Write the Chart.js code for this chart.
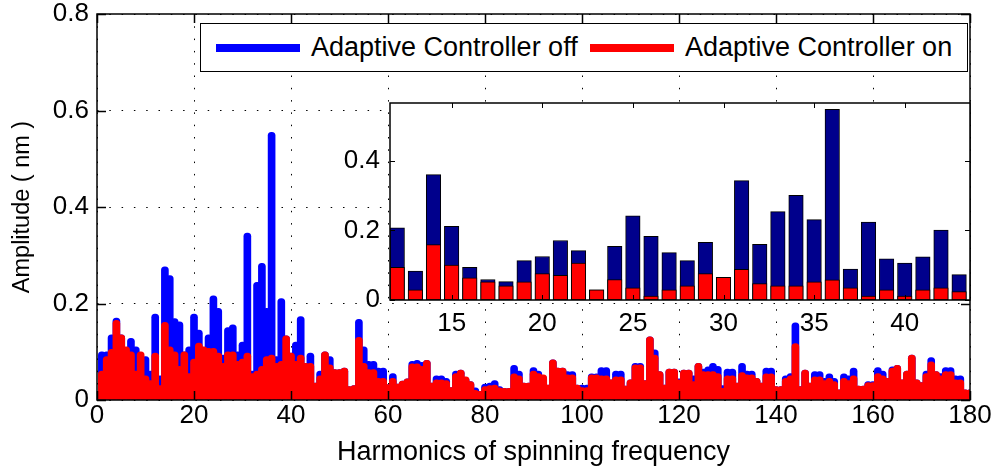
<!DOCTYPE html>
<html><head><meta charset="utf-8">
<script src="https://cdn.jsdelivr.net/npm/chart.js@4.4.1/dist/chart.umd.min.js"></script>
<style>
html,body{margin:0;padding:0;background:#fff;}
#wrap{position:relative;width:996px;height:472px;overflow:hidden;font-family:"Liberation Sans",Arial,sans-serif;}
#main{position:absolute;left:0;top:0;}
#inset{position:absolute;left:320px;top:95px;}
#legend{position:absolute;left:200px;top:23px;width:768px;height:49px;border:1.5px solid #000;background:#fff;box-sizing:border-box;}
.item{position:absolute;top:0;height:100%;display:flex;align-items:center;font-size:27px;color:#000;white-space:nowrap;}
.swatch{display:inline-block;width:84px;height:8px;margin-right:11px;}
</style></head>
<body><div id="wrap"><canvas id="main" width="996" height="472"></canvas><canvas id="inset" width="670" height="260"></canvas><div id="legend"></div></div>
<script>
// ---------- data ----------
const harmonics = Array.from({length: 180}, (_, i) => i + 1);
const ampOff = [
 .10,.10,.135,.17,.135,.095,.128,.11,.085,.09,
 .06,.178,.05,.276,.258,.169,.162,.10,.11,.178,
 .145,.09,.135,.216,.19,.093,.15,.156,.10,.12,
 .346,.06,.244,.283,.19,.555,.09,.21,.133,.097,
 .12,.173,.076,.097,.035,.06,.10,.09,.063,.063,
 .066,.028,.03,.167,.11,.08,.08,.066,.066,.032,
 .055,.033,.039,.044,.08,.082,.078,.082,.035,.05,
 .05,.045,.026,.06,.062,.047,.038,.025,.018,.033,
 .035,.04,.028,.024,.024,.072,.06,.035,.035,.067,
 .06,.05,.031,.083,.066,.066,.059,.059,.031,.031,
 .031,.054,.054,.067,.067,.042,.06,.06,.029,.042,
 .076,.076,.04,.131,.104,.059,.031,.064,.064,.044,
 .062,.062,.05,.076,.064,.069,.076,.07,.03,.064,
 .064,.035,.076,.06,.06,.045,.035,.066,.066,.028,
 .028,.05,.055,.16,.028,.062,.035,.059,.059,.045,
 .054,.045,.021,.054,.05,.066,.029,.029,.038,.038,
 .067,.06,.045,.069,.072,.042,.06,.093,.042,.036,
 .06,.088,.059,.055,.067,.067,.05,.05,.021,.021
];
const ampOn = [
 .06,.09,.105,.165,.135,.11,.10,.06,.10,.05,
 .04,.097,.03,.161,.11,.10,.07,.10,.055,.085,
 .118,.11,.107,.107,.097,.076,.10,.10,.08,.085,
 .097,.055,.06,.07,.09,.093,.076,.08,.133,.097,
 .08,.093,.076,.076,.035,.05,.10,.073,.063,.063,
 .066,.028,.03,.13,.076,.063,.063,.045,.045,.032,
 .045,.033,.039,.044,.075,.075,.07,.082,.035,.042,
 .042,.04,.026,.055,.062,.048,.038,.02,.018,.028,
 .03,.031,.025,.024,.024,.054,.05,.035,.035,.06,
 .055,.052,.031,.083,.066,.066,.052,.052,.031,.026,
 .026,.052,.052,.05,.05,.042,.048,.048,.029,.042,
 .073,.073,.04,.131,.093,.059,.031,.064,.064,.042,
 .062,.062,.038,.076,.059,.059,.059,.055,.024,.05,
 .05,.035,.057,.052,.052,.045,.035,.054,.054,.028,
 .028,.045,.05,.117,.028,.062,.035,.048,.048,.04,
 .045,.038,.021,.045,.04,.05,.029,.029,.036,.036,
 .055,.05,.045,.066,.072,.042,.06,.093,.042,.036,
 .055,.079,.059,.05,.059,.059,.042,.042,.021,.021
];
const mainXTicks = [0, 20, 40, 60, 80, 100, 120, 140, 160, 180];
const mainYTicks = [0, 0.2, 0.4, 0.6, 0.8];
const mainYLabels = ['0', '0.2', '0.4', '0.6', '0.8'];

const insetHarmonics = [12,13,14,15,16,17,18,19,20,21,22,23,24,25,26,27,28,29,30,31,32,33,34,35,36,37,38,39,40,41,42,43,44];
const insetOff = [.207,.083,.360,.212,.094,.059,.053,.113,.125,.171,.142,.029,.154,.242,.183,.136,.113,.166,.065,.343,.160,.254,.301,.231,.548,.089,.224,.118,.106,.124,.201,.073,.089];
const insetOn  = [.094,.029,.159,.100,.064,.052,.041,.052,.076,.071,.106,.029,.059,.035,.011,.029,.041,.076,.065,.088,.047,.041,.041,.052,.058,.035,.011,.029,.011,.029,.035,.024,.047];
const insetXTicks = [15, 20, 25, 30, 35, 40];
const insetYTicks = [0, 0.2, 0.4];
const insetYLabels = ['0', '0.2', '0.4'];

const seriesNames = ['Adaptive Controller off', 'Adaptive Controller on'];
const seriesColors = ['#0000ff', '#ff0000'];

// ---------- helpers ----------
const FONT = '"Liberation Sans", Arial, sans-serif';
Chart.defaults.font.family = FONT;
Chart.defaults.color = '#000';

const frameTicks = {
  id: 'frameTicks',
  beforeDraw(chart, args, opts) {
    if (!opts.fill) return;
    const {ctx, chartArea: a} = chart;
    ctx.save(); ctx.fillStyle = opts.fill;
    ctx.fillRect(a.left, a.top, a.width, a.height); ctx.restore();
  },
  afterDatasetsDraw(chart, args, opts) {
    const {ctx, chartArea: a, scales: {x, y}} = chart;
    ctx.save();
    ctx.strokeStyle = '#000';
    ctx.lineWidth = opts.tickWidth || 1;
    ctx.beginPath();
    x.ticks.forEach(t => {
      const px = Math.round(x.getPixelForValue(t.value)) + 0.5;
      ctx.moveTo(px, a.bottom); ctx.lineTo(px, a.bottom - opts.len);
      ctx.moveTo(px, a.top); ctx.lineTo(px, a.top + opts.len);
    });
    y.ticks.forEach(t => {
      const py = Math.round(y.getPixelForValue(t.value)) + 0.5;
      ctx.moveTo(a.left, py); ctx.lineTo(a.left + opts.len, py);
      ctx.moveTo(a.right, py); ctx.lineTo(a.right - opts.len, py);
    });
    ctx.stroke();
    ctx.lineWidth = opts.lw;
    ctx.strokeRect(a.left, a.top, a.width, a.height);
    ctx.restore();
  }
};

const toPts = (xs, ys) => xs.map((v, i) => ({x: v, y: ys[i]}));
const fixSize = (prop, val) => s => {
  s[prop] = val;
  s.paddingTop = 0; s.paddingBottom = 0; s.paddingLeft = 0; s.paddingRight = 0;
};

// ---------- main chart ----------
new Chart(document.getElementById('main'), {
  type: 'bar',
  data: {
    datasets: [
      {label: seriesNames[0], data: toPts(harmonics, ampOff), backgroundColor: seriesColors[0], order: 1,
       barThickness: 7, borderRadius: {topLeft: 3.5, topRight: 3.5}, borderSkipped: 'start', grouped: false},
      {label: seriesNames[1], data: toPts(harmonics, ampOn), backgroundColor: seriesColors[1], order: 0,
       barThickness: 7, borderRadius: {topLeft: 3.5, topRight: 3.5}, borderSkipped: 'start', grouped: false}
    ]
  },
  options: {
    responsive: false, animation: false, devicePixelRatio: 1,
    layout: {padding: {left: 0, right: 26, top: 14, bottom: 0}},
    plugins: {legend: {display: false}, tooltip: {enabled: false},
      frameTicks: {len: 9, lw: 1.5, tickWidth: 1.5}},
    scales: {
      x: {type: 'linear', min: 0, max: 180, offset: false,
        afterBuildTicks: s => { s.ticks = mainXTicks.map(v => ({value: v})); },
        afterFit: fixSize('height', 72),
        ticks: {font: {size: 26}, padding: 0, maxRotation: 0, autoSkip: false, callback: v => String(v)},
        grid: {offset: false, color: '#000', lineWidth: 1, drawTicks: false},
        border: {display: false, dash: [1.5, 10.8]},
        title: {display: true, text: 'Harmonics of spinning frequency', font: {size: 27}, padding: {top: 0, bottom: 3}}
      },
      y: {type: 'linear', min: 0, max: 0.8,
        afterBuildTicks: s => { s.ticks = mainYTicks.map(v => ({value: v})); },
        afterFit: fixSize('width', 97),
        ticks: {font: {size: 26}, padding: 8, callback: (v, i) => mainYLabels[i]},
        grid: {color: '#000', lineWidth: 1, drawTicks: false},
        border: {display: false, dash: [1.5, 10.8]},
        title: {display: true, text: 'Amplitude ( nm )', font: {size: 23.5}, padding: {top: 8, bottom: 0}}
      }
    }
  },
  plugins: [frameTicks]
});

// ---------- inset chart ----------
new Chart(document.getElementById('inset'), {
  type: 'bar',
  data: {
    datasets: [
      {label: seriesNames[0], data: toPts(insetHarmonics, insetOff), backgroundColor: '#00008c', borderColor: '#000', borderWidth: 1,
       borderSkipped: false, barThickness: 14.5, grouped: false, order: 1},
      {label: seriesNames[1], data: toPts(insetHarmonics, insetOn), backgroundColor: '#ff0000', borderColor: '#000', borderWidth: 1,
       borderSkipped: false, barThickness: 14.5, grouped: false, order: 0}
    ]
  },
  options: {
    responsive: false, animation: false, devicePixelRatio: 1,
    layout: {padding: {left: 0, right: 20, top: 8, bottom: 0}},
    plugins: {legend: {display: false}, tooltip: {enabled: false},
      frameTicks: {len: 5, lw: 1.5, tickWidth: 1, fill: '#fff'}},
    scales: {
      x: {type: 'linear', min: 11.6, max: 43.6, offset: false,
        afterBuildTicks: s => { s.ticks = insetXTicks.map(v => ({value: v})); },
        afterFit: fixSize('height', 55),
        ticks: {font: {size: 26}, padding: 0, maxRotation: 0, autoSkip: false, callback: v => String(v)},
        grid: {display: false, offset: false}, border: {display: false}
      },
      y: {type: 'linear', min: 0, max: 0.566,
        afterBuildTicks: s => { s.ticks = insetYTicks.map(v => ({value: v})); },
        afterFit: fixSize('width', 70),
        ticks: {font: {size: 26}, padding: 2, callback: (v, i) => insetYLabels[i]},
        grid: {display: false}, border: {display: false}
      }
    }
  },
  plugins: [frameTicks]
});

// ---------- legend (real text) ----------
const legend = document.getElementById('legend');
const legendLefts = [15, 389];
seriesNames.forEach((name, i) => {
  const it = document.createElement('div');
  it.className = 'item';
  it.style.left = legendLefts[i] + 'px';
  const sw = document.createElement('span');
  sw.className = 'swatch';
  sw.style.background = seriesColors[i];
  it.appendChild(sw);
  it.appendChild(document.createTextNode(name));
  legend.appendChild(it);
});
</script>
</body></html>
